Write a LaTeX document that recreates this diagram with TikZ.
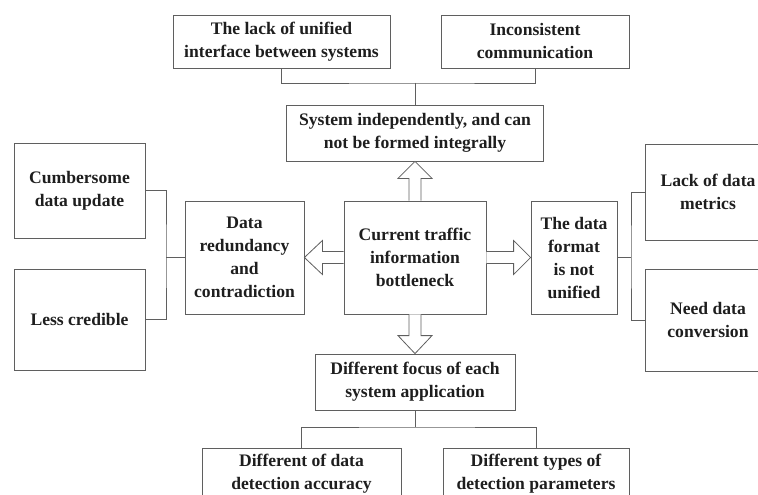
\documentclass[tikz,border=0pt]{standalone}
\usepackage{fontspec}
\setmainfont{Liberation Serif}
\usepackage{tikz}
\usetikzlibrary{calc}
\definecolor{linegray}{RGB}{95,95,95}
\definecolor{textblack}{RGB}{30,30,30}

\begin{document}
\begin{tikzpicture}[
    x=1pt, y=-1pt,
    box/.style={draw=linegray, line width=0.8pt, align=center, inner sep=0pt,
        text=textblack, font=\fontsize{17.6}{23}\selectfont\bfseries},
    link/.style={draw=linegray, line width=0.8pt},
    fat/.style={draw=linegray, line width=0.8pt, fill=white, line join=miter},
]
    \useasboundingbox (0,0) rectangle (758,495);
    \clip (0,0) rectangle (758,495);
    % top row
    \node[box, minimum width=217pt, minimum height=53pt] (lack) at (281.5,41.5)
        {The lack of unified\\interface between systems};
    \node[box, minimum width=188pt, minimum height=53pt] (incons) at (535,41.5)
        {Inconsistent\\communication};
    \node[box, minimum width=257pt, minimum height=56pt] (sys) at (415,133)
        {System independently, and can\\not be formed integrally};
    % middle row
    \node[box, minimum width=142pt, minimum height=113pt] (core) at (415,257.5)
        {Current traffic\\information\\bottleneck};
    \node[box, minimum width=119pt, minimum height=113pt] (redund) at (244.5,257.5)
        {Data\\redundancy\\and\\contradiction};
    \node[box, minimum width=86pt, minimum height=113pt] (format) at (574,257.5)
        {The data\\format\\is not\\unified};
    \node[box, minimum width=131pt, minimum height=95pt] (cumber) at (79.5,190.5)
        {Cumbersome\\data update};
    \node[box, minimum width=131pt, minimum height=101pt] (less) at (79.5,319.5)
        {Less credible};
    \node[box, minimum width=126pt, minimum height=96pt] (metrics) at (708,192)
        {Lack of data\\metrics};
    \node[box, minimum width=126pt, minimum height=102pt] (convers) at (708,320)
        {Need data\\conversion};
    % bottom row
    \node[box, minimum width=200pt, minimum height=56pt] (focus) at (415,382)
        {Different focus of each\\system application};
    \node[box, minimum width=199pt, minimum height=52pt] (accur) at (301.5,474)
        {Different of data\\detection accuracy};
    \node[box, minimum width=186pt, minimum height=52pt] (params) at (536,474)
        {Different types of\\detection parameters};

    % brackets
    \coordinate (tj) at (415,83);
    \draw[link] (lack.south) |- (tj) -| (incons.south);
    \draw[link] (tj) -- (sys.north);
    \coordinate (lj) at (166,257.5);
    \draw[link] (cumber.east) -| (lj) |- (less.east);
    \draw[link] (redund.west) -- (lj);
    \coordinate (rj) at (631,257.5);
    \draw[link] (metrics.west) -| (rj) |- (convers.west);
    \draw[link] (format.east) -- (rj);
    \coordinate (bj) at (415,427);
    \draw[link] (accur.north) |- (bj) -| (params.north);
    \draw[link] (focus.south) -- (bj);

    % hollow arrows
    \draw[fat] ($(core.north)+(-6,0)$) -- ($(sys.south)+(-6,17)$) -- ($(sys.south)+(-17,17)$)
        -- (sys.south) -- ($(sys.south)+(17,17)$) -- ($(sys.south)+(6,17)$) -- ($(core.north)+(6,0)$);
    \draw[fat] ($(core.south)+(-6,0)$) -- ($(focus.north)+(-6,-18)$) -- ($(focus.north)+(-17,-18)$)
        -- (focus.north) -- ($(focus.north)+(17,-18)$) -- ($(focus.north)+(6,-18)$) -- ($(core.south)+(6,0)$);
    \draw[fat] ($(core.west)+(0,-6)$) -- ($(redund.east)+(18,-6)$) -- ($(redund.east)+(18,-17)$)
        -- (redund.east) -- ($(redund.east)+(18,17)$) -- ($(redund.east)+(18,6)$) -- ($(core.west)+(0,6)$);
    \draw[fat] ($(core.east)+(0,-6)$) -- ($(format.west)+(-17,-6)$) -- ($(format.west)+(-17,-17)$)
        -- (format.west) -- ($(format.west)+(-17,17)$) -- ($(format.west)+(-17,6)$) -- ($(core.east)+(0,6)$);
\end{tikzpicture}
\end{document}
